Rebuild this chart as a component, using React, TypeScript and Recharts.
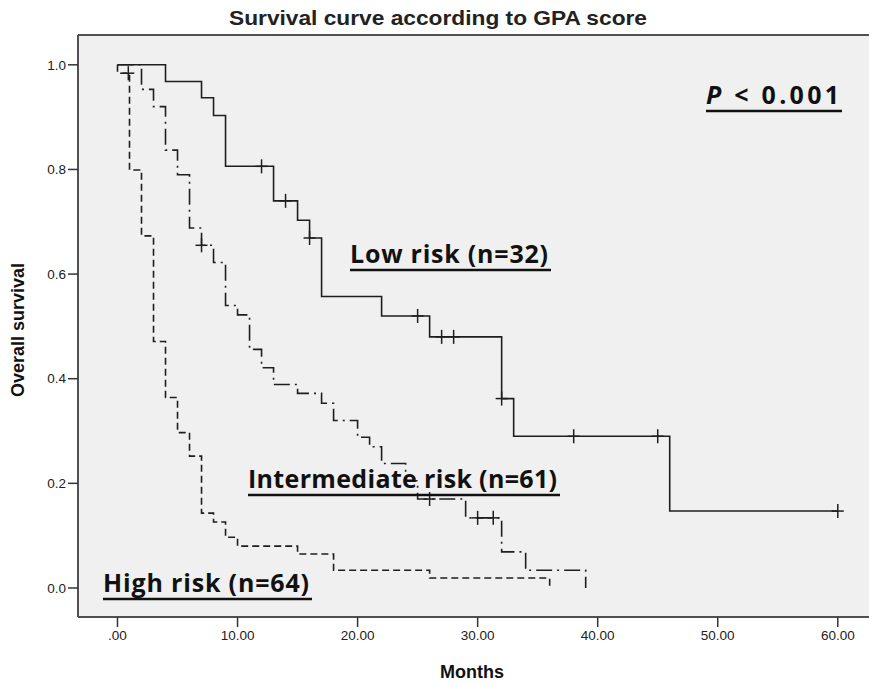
import React from "react";
import {
  ComposedChart,
  Line,
  XAxis,
  YAxis,
  ReferenceArea,
  ReferenceLine,
} from "recharts";

// Kaplan-Meier steps (months, survival)
const lowTimes = [0, 4, 7, 8, 9, 13, 15, 16, 17, 22, 26, 32, 33, 46, 60];
const lowSurv = [1.0, 0.968, 0.937, 0.903, 0.806, 0.74, 0.703, 0.669, 0.557, 0.52, 0.48, 0.362, 0.29, 0.147, 0.147];
const lowCensorTimes = [12, 14, 16, 25, 27, 28, 32, 38, 45, 60];
const lowCensorSurv = [0.806, 0.74, 0.669, 0.52, 0.48, 0.48, 0.362, 0.29, 0.29, 0.147];

const midTimes = [0, 2, 3, 4, 5, 6, 7, 8, 9, 10, 11, 12, 13, 15, 17, 18, 20, 21, 22, 24, 25, 29, 32, 34, 39];
const midSurv = [1.0, 0.953, 0.92, 0.837, 0.79, 0.688, 0.655, 0.622, 0.54, 0.522, 0.456, 0.421, 0.389, 0.372, 0.353, 0.32, 0.288, 0.27, 0.238, 0.205, 0.17, 0.134, 0.069, 0.034, 0];
const midCensorTimes = [7, 26, 30, 31.3];
const midCensorSurv = [0.655, 0.17, 0.134, 0.134];

const highTimes = [0, 0, 1, 2, 3, 4, 5, 6, 7, 8, 9, 10, 15, 18, 26, 36];
const highSurv = [1.0, 0.984, 0.799, 0.673, 0.471, 0.364, 0.297, 0.252, 0.143, 0.126, 0.097, 0.08, 0.065, 0.034, 0.019, 0];
const highCensorTimes = [0.9];
const highCensorSurv = [0.984];

const xTicks = [0, 10, 20, 30, 40, 50, 60];
const yTicks = [0, 0.2, 0.4, 0.6, 0.8, 1.0];

const X_DOMAIN: [number, number] = [-3.29, 62.6];
const Y_DOMAIN: [number, number] = [-0.0555, 1.057];

const toPoints = (ts: number[], ss: number[]) => ts.map((t, i) => ({ t, s: ss[i] }));

const INK = "#1e1e1e";
const FRAME = "#505050";
const NARROW = "'Liberation Sans Narrow', 'Liberation Sans', Arial, sans-serif";
const LABEL_FONT = "'Open Sans', 'Noto Sans', sans-serif";

const CensorMark = (props: any) => {
  const { cx, cy, key } = props;
  if (cx == null || cy == null) return <g key={key} />;
  return (
    <g key={key}>
      <line x1={cx} x2={cx} y1={cy - 7} y2={cy + 7} stroke={INK} strokeWidth={1.5} />
      <line x1={cx - 6} x2={cx + 6} y1={cy} y2={cy} stroke={INK} strokeWidth={1.5} />
    </g>
  );
};

const tickFont = { fontSize: 13.5, fill: "#222", fontFamily: NARROW };

function Annotation({ x, y, w, text, italicP }: { x: number; y: number; w: number; text: string; italicP?: boolean }) {
  return (
    <g>
      <text
        x={x}
        y={y}
        fontFamily={LABEL_FONT}
        fontWeight={700}
        fontSize={25}
        fill="#111"
        textLength={w - 3}
        lengthAdjust="spacing"
      >
        {italicP ? (
          <>
            <tspan fontStyle="italic">P</tspan>
            <tspan>{text}</tspan>
          </>
        ) : (
          text
        )}
      </text>
      <line x1={x} x2={x + w} y1={y + 7} y2={y + 7} stroke="#111" strokeWidth={2.5} />
    </g>
  );
}

export default function App() {
  const low = toPoints(lowTimes, lowSurv);
  const mid = toPoints(midTimes, midSurv);
  const high = toPoints(highTimes, highSurv);

  return (
    <div style={{ position: "absolute", left: 0, top: 0, width: 869, height: 685, background: "#fff" }}>
      <ComposedChart
        width={869}
        height={685}
        margin={{ top: 35, right: 0, left: 18, bottom: 28 }}
      >
        <XAxis
          dataKey="t"
          type="number"
          domain={X_DOMAIN}
          ticks={xTicks}
          allowDataOverflow
          height={40}
          tickSize={10}
          tickMargin={3}
          tick={tickFont}
          tickLine={{ stroke: "#333", strokeWidth: 1.5 }}
          axisLine={{ stroke: FRAME, strokeWidth: 2 }}
          tickFormatter={(v: number) => (v === 0 ? ".00" : v.toFixed(2))}
        />
        <YAxis
          dataKey="s"
          type="number"
          domain={Y_DOMAIN}
          ticks={yTicks}
          allowDataOverflow
          width={60}
          tickSize={10}
          tickMargin={2}
          tick={tickFont}
          tickLine={{ stroke: "#333", strokeWidth: 1.5 }}
          axisLine={{ stroke: FRAME, strokeWidth: 2 }}
          tickFormatter={(v: number) => v.toFixed(1)}
        />
        <ReferenceArea
          x1={X_DOMAIN[0]}
          x2={X_DOMAIN[1]}
          y1={Y_DOMAIN[0]}
          y2={Y_DOMAIN[1]}
          fill="#f0f0f0"
          fillOpacity={1}
          stroke="none"
        />
        <ReferenceLine y={Y_DOMAIN[1]} stroke={FRAME} strokeWidth={2} />

        <Line
          data={high}
          dataKey="s"
          type="stepAfter"
          stroke={INK}
          strokeWidth={1.6}
          strokeDasharray="7 4"
          dot={false}
          activeDot={false}
          isAnimationActive={false}
        />
        <Line
          data={mid}
          dataKey="s"
          type="stepAfter"
          stroke={INK}
          strokeWidth={1.6}
          strokeDasharray="16 5 2 5"
          dot={false}
          activeDot={false}
          isAnimationActive={false}
        />
        <Line
          data={low}
          dataKey="s"
          type="stepAfter"
          stroke={INK}
          strokeWidth={1.6}
          dot={false}
          activeDot={false}
          isAnimationActive={false}
        />
        <Line
          data={toPoints(lowCensorTimes, lowCensorSurv)}
          dataKey="s"
          stroke="none"
          dot={CensorMark}
          activeDot={false}
          isAnimationActive={false}
        />
        <Line
          data={toPoints(midCensorTimes, midCensorSurv)}
          dataKey="s"
          stroke="none"
          dot={CensorMark}
          activeDot={false}
          isAnimationActive={false}
        />
        <Line
          data={toPoints(highCensorTimes, highCensorSurv)}
          dataKey="s"
          stroke="none"
          dot={CensorMark}
          activeDot={false}
          isAnimationActive={false}
        />
      </ComposedChart>

      <svg
        width={869}
        height={685}
        style={{ position: "absolute", left: 0, top: 0, pointerEvents: "none" }}
      >
        <text
          x={438}
          y={25}
          textAnchor="middle"
          fontFamily={NARROW}
          fontSize={21}
          fontWeight={700}
          fill="#222"
          textLength={418}
          lengthAdjust="spacingAndGlyphs"
        >
          Survival curve according to GPA score
        </text>
        <text
          x={472}
          y={678}
          textAnchor="middle"
          fontFamily={NARROW}
          fontSize={18}
          fontWeight={700}
          fill="#111"
        >
          Months
        </text>
        <text
          x={24}
          y={330}
          textAnchor="middle"
          transform="rotate(-90 24 330)"
          fontFamily={NARROW}
          fontSize={18}
          fontWeight={700}
          fill="#111"
        >
          Overall survival
        </text>

        <Annotation x={706} y={104} w={136} text=" < 0.001" italicP />
        <Annotation x={350} y={263} w={201} text="Low risk (n=32)" />
        <Annotation x={248} y={488} w={312} text="Intermediate risk (n=61)" />
        <Annotation x={103} y={592} w={209} text="High risk (n=64)" />
      </svg>
    </div>
  );
}
